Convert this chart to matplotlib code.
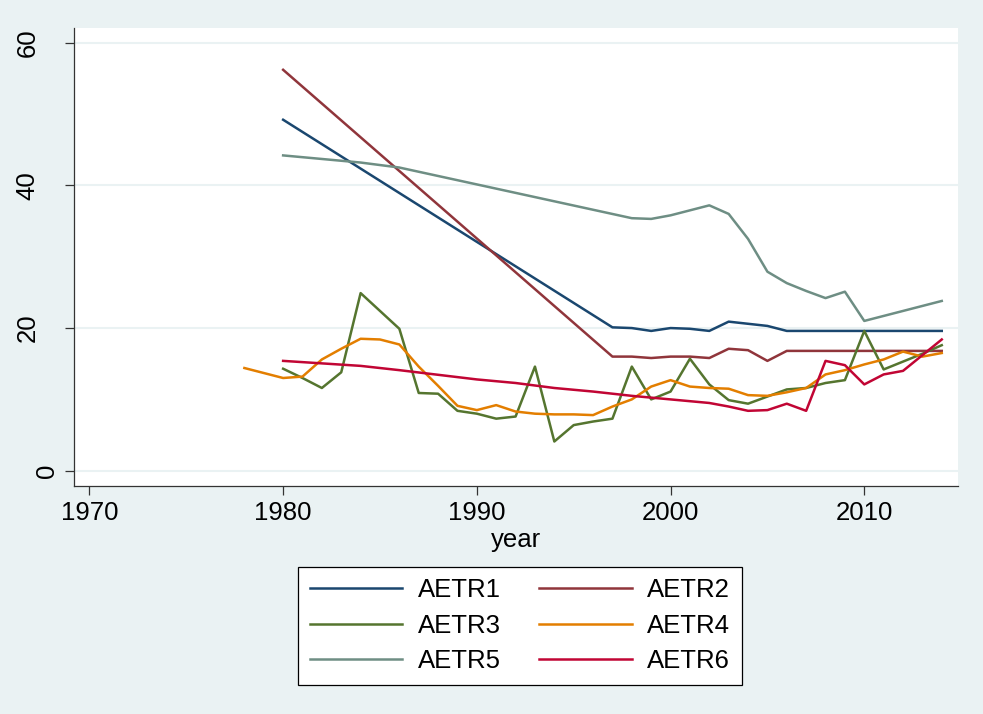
import matplotlib
matplotlib.use("Agg")
import matplotlib.pyplot as plt

plt.rcParams["font.family"] = ["Liberation Sans", "DejaVu Sans"]

# ---- data ----
years1 = [1980, 1997, 1998, 1999, 2000, 2001, 2002, 2003, 2004, 2005, 2006,
          2007, 2008, 2009, 2010, 2011, 2012, 2013, 2014]
aetr1 = [49.2, 20.1, 20.0, 19.6, 20.0, 19.9, 19.6, 20.9, 20.6, 20.3, 19.6,
         19.6, 19.6, 19.6, 19.6, 19.6, 19.6, 19.6, 19.6]

years2 = years1
aetr2 = [56.2, 16.0, 16.0, 15.8, 16.0, 16.0, 15.8, 17.1, 16.9, 15.4, 16.8,
         16.8, 16.8, 16.8, 16.8, 16.8, 16.8, 16.8, 16.8]

years3 = list(range(1980, 2015))
aetr3 = [14.3, 13.0, 11.6, 13.8, 24.9, 22.4, 19.9, 10.9, 10.8, 8.4,
         8.0, 7.3, 7.6, 14.6, 4.1, 6.4, 6.9, 7.3, 14.6, 10.0,
         11.1, 15.7, 12.1, 9.9, 9.4, 10.4, 11.4, 11.6, 12.3, 12.7,
         19.6, 14.2, 15.3, 16.4, 17.6]

years4 = [1978] + list(range(1980, 2015))
aetr4 = [14.4,
         13.0, 13.2, 15.6, 17.1, 18.5, 18.4, 17.7, 14.6, 11.9, 9.1,
         8.5, 9.2, 8.3, 8.0, 7.9, 7.9, 7.8, 9.0, 10.0, 11.8,
         12.7, 11.8, 11.6, 11.5, 10.6, 10.5, 11.0, 11.6, 13.5, 14.1,
         14.9, 15.6, 16.7, 16.0, 16.5]

years5 = [1980, 1984, 1986, 1998, 1999, 2000, 2001, 2002, 2003, 2004, 2005,
          2006, 2007, 2008, 2009, 2010, 2014]
aetr5 = [44.2, 43.2, 42.5, 35.4, 35.3, 35.8, 36.5, 37.2, 36.0, 32.5, 27.9,
         26.3, 25.2, 24.2, 25.1, 21.0, 23.8]

years6 = [1980, 1984, 1986, 1990, 1992, 1994, 1996, 1998, 2000, 2002, 2003,
          2004, 2005, 2006, 2007, 2008, 2009, 2010, 2011, 2012, 2013, 2014]
aetr6 = [15.4, 14.7, 14.1, 12.8, 12.3, 11.6, 11.1, 10.5, 10.0, 9.5, 9.0,
         8.4, 8.5, 9.4, 8.4, 15.4, 14.8, 12.1, 13.5, 14.0, 16.2, 18.4]

labels = ["AETR1", "AETR2", "AETR3", "AETR4", "AETR5", "AETR6"]
colors = ["#1a476f", "#90353b", "#55752f", "#e37e00", "#6e8e84", "#c10534"]

xticks = [1970, 1980, 1990, 2000, 2010]
yticks = [0, 20, 40, 60]

bg = "#eaf2f3"
fs = 18.5

fig = plt.figure(figsize=(9.83, 7.14), dpi=100, facecolor=bg)
ax = fig.add_axes([0.0748, 0.3193, 0.8998, 0.6415])
ax.set_facecolor("white")

series = [(years1, aetr1), (years2, aetr2), (years3, aetr3),
          (years4, aetr4), (years5, aetr5), (years6, aetr6)]
handles = []
for (xs, ys), lab, col in zip(series, labels, colors):
    h, = ax.plot(xs, ys, color=col, lw=1.8, label=lab, zorder=3)
    handles.append(h)

ax.set_xlim(1969.18, 2014.84)
ax.set_ylim(-2.14, 62.06)
ax.set_xticks(xticks)
ax.set_yticks(yticks)
ax.set_yticklabels([str(v) for v in yticks], rotation=90, va="center")

ax.grid(axis="y", color=bg, lw=1.5, zorder=0)
ax.set_axisbelow(True)
for s in ["top", "right"]:
    ax.spines[s].set_visible(False)
for s in ["left", "bottom"]:
    ax.spines[s].set_color("#333333")
    ax.spines[s].set_linewidth(0.9)

ax.tick_params(axis="both", direction="out", length=6.5, width=0.9,
               color="#333333", labelsize=fs)
ax.tick_params(axis="x", pad=4.5)
# Stata puts the short "0" label closer to the axis
for t, v in zip(ax.yaxis.get_major_ticks(), yticks):
    t.set_pad(4 if v == 0 else 18)

ax.set_xlabel("year", fontsize=fs, va="baseline")
ax.xaxis.set_label_coords(0.5, -0.133)

order = [0, 2, 4, 1, 3, 5]
leg = fig.legend([handles[i] for i in order], [labels[i] for i in order],
                 ncol=2, loc="upper left",
                 bbox_to_anchor=(298 / 983, 1 - 566.7 / 714),
                 fontsize=fs, frameon=True, fancybox=False,
                 edgecolor="black", facecolor="white", framealpha=1,
                 handlelength=3.6, handletextpad=0.6, columnspacing=1.5,
                 labelspacing=0.45, borderpad=0.45, borderaxespad=0)
leg.get_frame().set_linewidth(0.9)

fig.savefig("out.png", dpi=100, facecolor=bg)
